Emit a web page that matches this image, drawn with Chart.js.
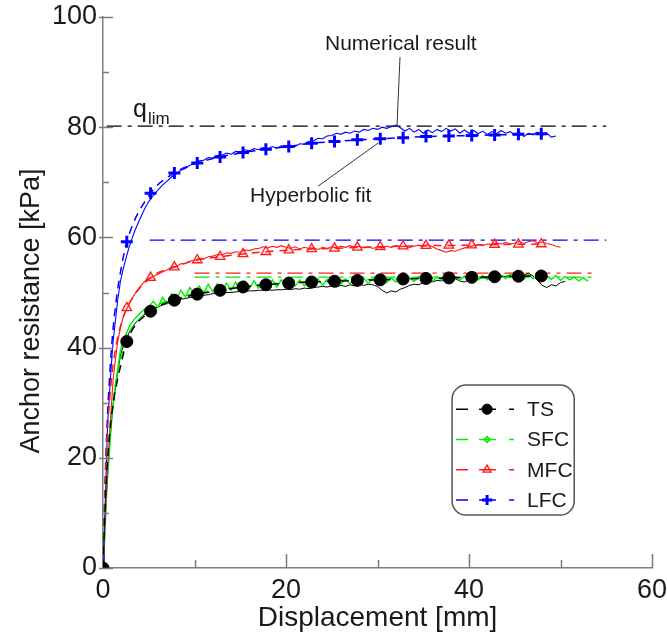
<!DOCTYPE html>
<html><head><meta charset="utf-8">
<script src="https://cdn.jsdelivr.net/npm/chart.js@4.4.0/dist/chart.umd.min.js"></script>
<style>html,body{margin:0;padding:0;background:#fff}#wrap{width:667px;height:639px}</style>
</head><body><div id="wrap"><canvas id="c" width="667" height="639"></canvas></div>
<script>
// ---------- DATA ----------
const SERIES = ['TS', 'SFC', 'MFC', 'LFC'];

// displacement grid of the numerical results [mm]
const DISP = [0,0.1,0.2,0.35,0.5,0.7,0.9,1.1,1.3,1.6,1.9,2.2,2.6,3.0,3.5,4.0,4.5,5.0,
  5.5,6,6.5,7,7.5,8,8.5,9,9.5,10,
  10.5,11,11.5,12,12.5,13,13.5,14,14.5,15,
  15.5,16,16.5,17,17.5,18,18.5,19,19.5,20,
  20.5,21,21.5,22,22.5,23,23.5,24,24.5,25,
  25.5,26,26.5,27,27.5,28,28.5,29,29.5,30,
  30.5,31,31.5,32,32.5,33,33.5,34,34.5,35,
  35.5,36,36.5,37,37.5,38,38.5,39,39.5,40,
  40.5,41,41.5,42,42.5,43,43.5,44,44.5,45,
  45.5,46,46.5,47,47.5,48,48.5,49,49.5,50,
  50.5,51,51.5,52,52.5,53];

// numerical results [kPa]
const TS_NUM = [0,3.5,7,12.5,17,22,26,29.5,32,35.5,38.5,40.2,41.8,43.2,44.4,45.3,46.0,46.6,
  47.0,47.4,47.7,48.0,48.3,48.5,48.8,48.9,49.1,49.2,
  49.4,49.5,49.6,49.8,49.8,49.9,50.0,50.0,50.1,50.2,
  50.2,50.3,50.3,50.4,50.4,50.5,50.4,50.5,50.5,50.6,
  50.5,50.7,50.6,50.8,50.7,50.9,51.0,51.1,51.0,51.2,
  51.0,51.3,51.1,51.4,51.2,51.5,51.3,51.5,51.4,51.1,
  50.4,49.9,50.3,50.1,50.6,50.9,51.3,51.5,51.4,51.8,
  52.1,51.9,52.2,52.1,52.4,52.2,52.5,52.1,51.9,52.3,
  52.5,52.4,52.7,52.5,52.8,52.7,53.0,52.9,53.2,53.0,
  53.3,53.1,53.5,53.0,52.2,51.3,50.9,51.4,51.2,51.8,
  52.0];
const SFC_NUM = [0,3,5.5,12,16.5,21,26,29.5,32.5,36,39.5,41.2,42.8,44.2,45.3,46.2,46.9,47.4,
  48.4,47.3,49.1,48.0,49.8,48.6,50.4,49.2,50.9,49.6,
  51.2,49.9,51.5,50.1,51.6,50.3,51.7,50.4,51.9,50.5,
  52.0,50.7,52.1,50.8,52.2,50.9,52.3,51.0,52.3,51.1,
  52.4,51.2,52.3,51.2,52.4,51.3,52.5,51.3,52.4,51.4,
  52.5,51.5,52.5,51.6,52.4,51.7,52.6,51.6,52.5,51.4,
  52.3,51.8,52.7,51.9,52.8,51.9,52.7,52.0,52.9,52.1,
  52.8,52.0,52.9,52.2,53.0,52.1,52.9,52.2,53.0,52.1,
  52.9,52.3,53.1,52.3,53.0,52.4,53.2,52.5,53.3,52.5,
  53.2,52.4,53.3,52.5,53.2,52.3,53.0,52.4,53.1,52.2,
  52.9,52.3,52.8,52.1,52.7,52.0];
const MFC_NUM = [0,4,8,13,18,24,29,34,37,41,43.5,45.5,47,48.3,49.8,51,51.9,52.5,
  52.9,53.3,53.7,54.1,54.6,54.7,55.2,55.3,55.7,55.8,
  56.2,56.1,56.5,56.6,56.9,56.8,57.2,57.1,57.4,57.3,
  57.7,57.6,57.9,58.0,58.3,58.1,58.4,58.2,58.5,58.2,
  58.0,58.3,57.9,58.2,58.0,58.1,57.8,58.2,58.0,58.3,
  58.1,58.4,58.2,58.5,58.2,58.4,58.1,58.3,58.0,58.3,
  58.1,58.4,58.2,58.5,58.3,58.4,58.2,58.4,58.6,58.4,
  58.7,58.3,57.9,57.6,57.3,57.6,57.5,57.8,58.1,58.3,
  58.5,58.7,58.5,58.8,58.7,59.0,58.8,59.1,58.8,59.0,
  59.3,58.9,59.2,59.4,59.0,59.2,58.9,58.7,58.4,58.2];
const LFC_NUM = [0,5,9.5,17.5,26,31.5,36.5,41,44,48.5,52,54.2,56.8,59,61.3,63.2,65,66.5,
  67.6,68.6,69.5,70.2,71.0,71.5,72.2,72.5,73.1,73.4,
  73.9,74.0,74.5,74.4,74.9,74.9,75.3,75.1,75.6,75.4,
  75.9,75.7,76.1,75.9,76.3,76.1,76.5,76.2,76.6,76.3,
  76.7,76.5,77.0,76.9,77.4,77.5,78.0,77.9,78.4,78.5,
  78.9,78.7,79.1,78.9,79.3,79.1,79.6,79.4,79.8,79.6,
  80.0,79.8,80.1,80.4,79.9,79.3,79.8,79.1,79.6,78.9,
  79.5,79.0,79.6,79.2,79.8,79.3,79.7,78.9,79.5,78.9,
  79.4,78.8,79.3,78.7,79.2,78.8,79.4,78.9,79.2,78.6,
  79.1,78.3,78.9,78.6,79.1,78.5,78.9,78.2,78.4];

// hyperbolic fits [mm] / [kPa]
const FIT_DISP = [0,0.25,0.5,1,1.5,2,2.6,5.2,7.8,10.3,12.8,15.3,17.8,20.3,22.8,25.3,27.8,30.3,32.8,35.3,37.8,40.3,42.8,45.4,47.9];
const TS_FIT  = [0,11.5,19.5,28.5,33.5,37.2,41.1,46.6,48.6,49.7,50.4,51.0,51.4,51.7,51.9,52.05,52.2,52.3,52.45,52.55,52.65,52.75,52.85,52.95,53.0];
const SFC_FIT = [0,11.8,20,29,34.5,38.3,41.6,46.9,48.9,49.9,50.6,51.1,51.5,51.8,52.0,52.2,52.3,52.4,52.5,52.6,52.7,52.8,52.85,52.9,52.95];
const MFC_FIT = [0,15.9,25.2,35.4,40.9,44.4,47.2,52.7,54.6,55.9,56.5,57.0,57.4,57.7,57.9,58.0,58.2,58.3,58.4,58.5,58.55,58.6,58.7,58.75,58.8];
const LFC_FIT = [0,16.9,27.9,41.4,49.3,54.5,59.2,68.0,71.7,73.5,74.6,75.4,76.0,76.5,77.1,77.4,77.7,77.9,78.1,78.3,78.4,78.5,78.6,78.7,78.8];

// limit resistance lines: value [kPa], from / to displacement [mm]
const LIM_VALUE = [80.2, 59.5, 53.5, 52.8];
const LIM_FROM  = [0.4, 5.1, 10.0, 10.0];
const LIM_TO    = [55.0, 55.0, 54.0, 54.0];

const X_TICKS = [0, 20, 40, 60];
const X_MINOR = [10, 30, 50];
const Y_TICKS = [0, 20, 40, 60, 80, 100];
const Y_MINOR = [10, 30, 50, 70, 90];

// ---------- STYLE ----------
const FONT = "'Liberation Sans', Arial, Helvetica, sans-serif";
const COLORS = {TS: '#000000', SFC: '#00ee00', MFC: '#ff1a1a', LFC: '#0000ff'};
const LIM_COLORS = ['#000000', '#0000ff', '#ff1a1a', '#00ee00'];
const MARK = {
  TS:  {pointStyle: 'circle',   radius: 6,   borderWidth: 1,   bg: '#000000'},
  SFC: {pointStyle: 'rectRot',  radius: 3.5, borderWidth: 1.5, bg: 'rgba(0,238,0,0.35)'},
  MFC: {pointStyle: 'triangle', radius: 5.5, borderWidth: 1.3, bg: 'rgba(255,26,26,0.12)'},
  LFC: {pointStyle: 'cross',    radius: 6,   borderWidth: 3,   bg: '#0000ff'}
};
const NUM = {TS: TS_NUM, SFC: SFC_NUM, MFC: MFC_NUM, LFC: LFC_NUM};
const FIT = {TS: TS_FIT, SFC: SFC_FIT, MFC: MFC_FIT, LFC: LFC_FIT};
const FIT_ORDER = {TS: 1, SFC: 2, MFC: 3, LFC: 4};
const NUM_ORDER = {LFC: 5, MFC: 6, SFC: 7, TS: 8};
const NUM_WIDTH = {TS: 1, SFC: 1.4, MFC: 1.1, LFC: 1.1};

const pairs = (xs, ys) => ys.map((v, i) => ({x: xs[i], y: v}));

const datasets = [];
SERIES.forEach(s => {
  const m = MARK[s];
  datasets.push({
    label: s + ' fit', data: pairs(FIT_DISP, FIT[s]), showLine: true,
    borderColor: COLORS[s], borderWidth: 1.5, borderDash: [8, 6],
    cubicInterpolationMode: 'monotone',
    pointStyle: m.pointStyle,
    pointRadius: ctx => { const x = FIT_DISP[ctx.dataIndex]; return (x === 0 || x >= 2.5) ? m.radius : 0; },
    pointBorderWidth: m.borderWidth, pointBackgroundColor: m.bg, pointBorderColor: COLORS[s],
    order: FIT_ORDER[s]
  });
  datasets.push({
    label: s + ' numerical', data: pairs(DISP, NUM[s]), showLine: true,
    borderColor: COLORS[s], borderWidth: NUM_WIDTH[s], pointRadius: 0, tension: 0,
    order: NUM_ORDER[s]
  });
});
LIM_VALUE.forEach((v, i) => {
  datasets.push({
    label: 'limit ' + i, data: [{x: LIM_FROM[i], y: v}, {x: LIM_TO[i], y: v}], showLine: true,
    borderColor: LIM_COLORS[i], borderWidth: 1.3, borderDash: [15, 6, 4, 6], pointRadius: 0,
    order: 10 + i
  });
});

// ---------- DECORATION PLUGIN ----------
const deco = {
  id: 'deco',
  afterDraw(chart) {
    const {ctx, chartArea: a, scales: {x, y}} = chart;
    const X = v => x.getPixelForValue(v), Y = v => y.getPixelForValue(v);
    const seg = (x1, y1, x2, y2) => { ctx.beginPath(); ctx.moveTo(x1, y1); ctx.lineTo(x2, y2); ctx.stroke(); };
    ctx.save();
    // inward ticks
    ctx.strokeStyle = '#7a7a7a'; ctx.lineWidth = 1.5; ctx.setLineDash([]);
    Y_TICKS.forEach(v => { const p = Math.round(Y(v)) + 0.5; seg(a.left - 4, p, a.left + 10, p); });
    Y_MINOR.forEach(v => { const p = Math.round(Y(v)) + 0.5; seg(a.left, p, a.left + 6, p); });
    X_TICKS.forEach(v => { if (v === 0) return; const p = Math.round(X(v)) + 0.5; seg(p, a.bottom, p, a.bottom - 14); });
    X_MINOR.forEach(v => { const p = Math.round(X(v)) + 0.5; seg(p, a.bottom, p, a.bottom - 8); });

    // axis titles
    ctx.fillStyle = '#1a1a1a';
    ctx.font = '28px ' + FONT; ctx.textAlign = 'center'; ctx.textBaseline = 'middle';
    ctx.fillText('Displacement [mm]', (a.left + a.right) / 2, 618);
    ctx.save(); ctx.translate(32, 311); ctx.rotate(-Math.PI / 2);
    ctx.font = '27px ' + FONT; ctx.fillText('Anchor resistance [kPa]', 0, 0); ctx.restore();

    // annotations
    ctx.textAlign = 'left'; ctx.textBaseline = 'alphabetic';
    ctx.font = '21px ' + FONT;
    ctx.fillText('Numerical result', X(24.26), Y(94.0));
    ctx.fillText('Hyperbolic fit', X(16.07), Y(66.4));
    ctx.strokeStyle = '#333'; ctx.lineWidth = 1;
    seg(X(32.46), Y(92.7), X(32.13), Y(80.2));
    seg(X(23.5), Y(69.3), X(30.05), Y(77.1));
    ctx.font = '25px ' + FONT; ctx.fillText('q', X(3.28), Y(81.85));
    ctx.font = '17px ' + FONT; ctx.fillText('lim', X(4.92), Y(80.6));

    // legend
    const bx = X(38.15), by = Y(33.2), bw = X(51.5) - bx, bh = Y(9.6) - by;
    ctx.fillStyle = '#fff'; ctx.strokeStyle = '#555'; ctx.lineWidth = 1.5;
    ctx.beginPath(); ctx.roundRect(bx, by, bw, bh, 14); ctx.fill(); ctx.stroke();
    const rowH = bh / 4.3;
    SERIES.forEach((s, i) => {
      const cy = by + rowH * (0.8 + i);
      const x0 = bx + 4;
      ctx.strokeStyle = COLORS[s]; ctx.fillStyle = MARK[s].bg; ctx.lineWidth = 1.5;
      seg(x0, cy, x0 + 12, cy);
      seg(x0 + 23, cy, x0 + 40, cy);
      seg(x0 + 53, cy, x0 + 58, cy);
      ctx.lineWidth = MARK[s].borderWidth;
      Chart.helpers.drawPoint(ctx, {pointStyle: MARK[s].pointStyle, radius: MARK[s].radius * 0.85, borderWidth: MARK[s].borderWidth, rotation: 0}, x0 + 31, cy);
      ctx.fillStyle = '#1a1a1a'; ctx.font = '21px ' + FONT; ctx.textBaseline = 'middle';
      ctx.fillText(s, x0 + 71, cy + 1);
    });
    ctx.restore();
  }
};

new Chart(document.getElementById('c'), {
  type: 'scatter',
  data: {datasets},
  options: {
    responsive: false, animation: false, devicePixelRatio: 1,
    layout: {padding: {top: 17, right: 15, left: 0, bottom: 0}},
    plugins: {legend: {display: false}, tooltip: {enabled: false}},
    scales: {
      x: {
        type: 'linear', min: 0, max: 60,
        afterBuildTicks: sc => { sc.ticks = X_TICKS.map(v => ({value: v})); },
        grid: {display: false, drawTicks: false},
        border: {display: true, color: '#808080', width: 1.5},
        ticks: {padding: 6, color: '#1a1a1a', font: {size: 27, family: FONT}, maxRotation: 0},
        afterFit: sc => { sc.height = 71; sc.paddingLeft = 0; sc.paddingRight = 0; }
      },
      y: {
        type: 'linear', min: 0, max: 100,
        afterBuildTicks: sc => { sc.ticks = Y_TICKS.map(v => ({value: v})); },
        grid: {display: false, drawTicks: false},
        border: {display: true, color: '#808080', width: 1.5},
        ticks: {padding: 6, color: '#1a1a1a', font: {size: 27, family: FONT}},
        afterFit: sc => { sc.width = 103; sc.paddingTop = 0; sc.paddingBottom = 0; }
      }
    }
  },
  plugins: [deco]
});
</script></body></html>
